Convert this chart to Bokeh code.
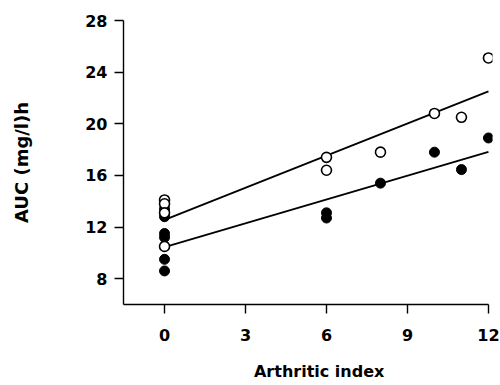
from bokeh.plotting import figure
from bokeh.models import FixedTicker, Range1d, LinearAxis
from bokeh.embed import file_html
from bokeh.resources import INLINE

# Open circles
open_x = [0, 0, 0, 0, 6, 6, 8, 10, 11, 12]
open_y = [14.1, 13.8, 13.1, 10.5, 17.4, 16.4, 17.8, 20.8, 20.5, 25.1]
# Filled circles
filled_x = [0, 0, 0, 0, 0, 0, 6, 6, 8, 10, 11, 12]
filled_y = [13.4, 12.8, 11.5, 11.2, 9.5, 8.6, 13.1, 12.7, 15.4, 17.8, 16.45, 18.9]

# Regression lines: (intercept, slope)
open_fit = (12.55, 0.83)
filled_fit = (10.45, 0.615)
fit_x = [0, 12]

x_ticks = [0, 3, 6, 9, 12]
y_ticks = [8, 12, 16, 20, 24, 28]

FONT = "DejaVu Sans"

p = figure(width=500, height=385, output_backend="svg", toolbar_location=None,
           x_range=Range1d(-1.52, 12.15), y_range=Range1d(6, 28),
           min_border_left=123, min_border_right=8, min_border_top=20,
           min_border_bottom=81)

p.background_fill_color = "white"
p.border_fill_color = "white"
p.outline_line_color = None
p.grid.visible = False

for ax in (p.xaxis[0], p.yaxis[0]):
    ax.axis_line_color = "black"
    ax.axis_line_width = 1.4
    ax.major_tick_line_color = "black"
    ax.major_tick_line_width = 1.4
    ax.major_tick_out = 9
    ax.major_tick_in = 0
    ax.minor_tick_line_color = None
    ax.major_label_text_font = FONT
    ax.major_label_text_font_style = "bold"
    ax.major_label_text_font_size = "16px"
    ax.major_label_text_color = "black"
    ax.axis_label_text_font = FONT
    ax.axis_label_text_font_style = "bold"
    ax.axis_label_text_color = "black"

p.xaxis.ticker = FixedTicker(ticks=x_ticks)
p.yaxis.ticker = FixedTicker(ticks=y_ticks)
p.xaxis.bounds = (-1.52, 12)
p.yaxis.axis_label = "AUC (mg/l)h"
p.yaxis.axis_label_text_font_size = "18px"
p.xaxis.major_label_standoff = 15
p.yaxis.major_label_standoff = 7
p.yaxis.axis_label_standoff = 50

# x-axis title: a bare axis under the tick axis; leading no-break spaces
# move the centred text a little right of the frame centre, as in the original
title_axis = LinearAxis(ticker=FixedTicker(ticks=[]),
                        axis_line_color=None, major_tick_line_color=None,
                        minor_tick_line_color=None, major_tick_out=0, major_tick_in=0,
                        minor_tick_out=0, major_label_text_font_size="0px",
                        axis_label="\u00a0\u00a0\u00a0\u00a0Arthritic index",
                        axis_label_standoff=18,
                        axis_label_text_font=FONT, axis_label_text_font_style="bold",
                        axis_label_text_font_size="16px", axis_label_text_color="black")
p.add_layout(title_axis, "below")

# regression lines
for (b0, b1) in (open_fit, filled_fit):
    ys = [b0 + b1 * x for x in fit_x]
    p.line(fit_x, ys, line_color="black", line_width=1.8)

p.scatter(filled_x, filled_y, size=10, marker="circle",
          fill_color="black", line_color="black", line_width=1)
p.scatter(open_x, open_y, size=10, marker="circle",
          fill_color="white", line_color="black", line_width=1.6)

open("out.html", "w").write(file_html(p, INLINE))
